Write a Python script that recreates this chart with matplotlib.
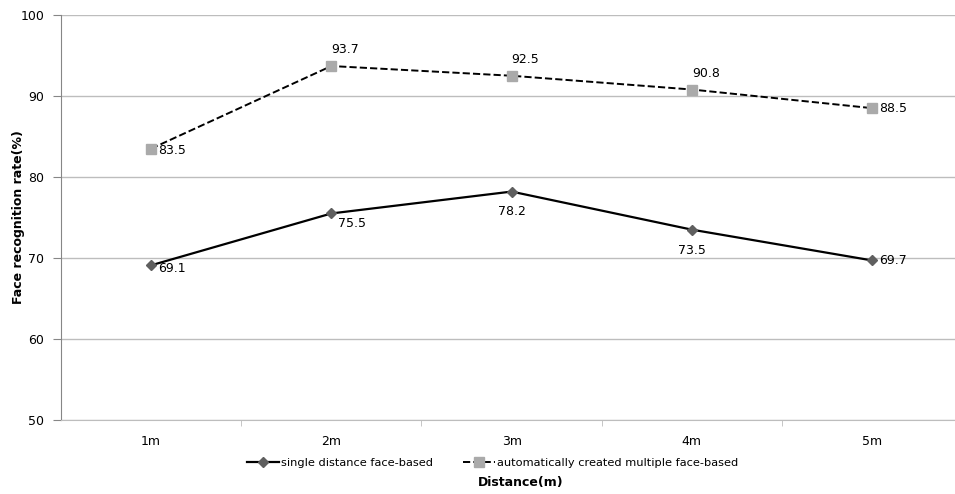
import numpy as np
import matplotlib.pyplot as plt

distances = ["1m", "2m", "3m", "4m", "5m"]
single_face = [69.1, 75.5, 78.2, 73.5, 69.7]
multi_face = [83.5, 93.7, 92.5, 90.8, 88.5]

# label offsets in points (dx, dy) and alignment for each value
single_offsets = [(5, -2, "left", "center"), (5, -7, "left", "center"), (0, -10, "center", "top"),
                  (0, -10, "center", "top"), (5, 0, "left", "center")]
multi_offsets = [(5, -1, "left", "center"), (0, 7, "left", "bottom"), (0, 7, "left", "bottom"),
                 (0, 7, "left", "bottom"), (5, 0, "left", "center")]

plt.rcParams['font.family'] = ['DejaVu Sans']
plt.rcParams['font.size'] = 9

fig = plt.figure(figsize=(9.55, 4.94), dpi=100)
ax = fig.add_axes([61 / 955, 1 - 420 / 494, 1 - 61 / 955, (420 - 15) / 494])

x = np.arange(len(distances))
ax.plot(x, single_face, "-", color="black", linewidth=1.6, marker="D", markersize=5.5,
        markerfacecolor="#5f5f5f", markeredgecolor="#5f5f5f", label="single distance face-based", zorder=3)
ax.plot(x, multi_face, "--", color="black", linewidth=1.4, marker="s", markersize=7.5,
        markerfacecolor="#aaaaaa", markeredgecolor="#aaaaaa",
        label="automatically created multiple face-based", zorder=3)

for xi, v, (dx, dy, ha, va) in zip(x, single_face, single_offsets):
  ax.annotate("{:.1f}".format(v), (xi, v), xytext=(dx, dy), textcoords="offset points",
              ha=ha, va=va, fontsize=9)
for xi, v, (dx, dy, ha, va) in zip(x, multi_face, multi_offsets):
  ax.annotate("{:.1f}".format(v), (xi, v), xytext=(dx, dy), textcoords="offset points",
              ha=ha, va=va, fontsize=9)

ax.set_xlim(-0.5, 4.46)
ax.set_ylim(50, 100)
ax.set_yticks(np.arange(50, 101, 10))
ax.set_xticks(x)
ax.set_xticklabels(distances)
# small marks between categories on the bottom axis
ax.set_xticks(np.arange(0.5, 4.0, 1.0), minor=True)
ax.yaxis.grid(True, color="#bdbdbd", linewidth=1)
ax.set_axisbelow(True)

for s in ["top", "right"]:
  ax.spines[s].set_visible(False)
ax.spines["left"].set_color("#868686")
ax.spines["bottom"].set_color("#bdbdbd")
ax.tick_params(axis="y", length=6, color="#868686", pad=6)
ax.tick_params(axis="x", which="major", length=0, pad=11)
ax.tick_params(axis="x", which="minor", length=4, color="#bdbdbd")

ax.set_ylabel("Face recognition rate(%)", fontweight="bold")
ax.yaxis.set_label_coords(-0.040, 0.5)
fig.text(0.545, 1 - 482 / 494, "Distance(m)", fontweight="bold", ha="center", va="center")
fig.legend(loc="center", bbox_to_anchor=(0.516, 1 - 463 / 494), ncol=2, frameon=False,
           handlelength=2.8, columnspacing=2.6, handletextpad=0.2, fontsize=8.2)

plt.savefig("out.png")
